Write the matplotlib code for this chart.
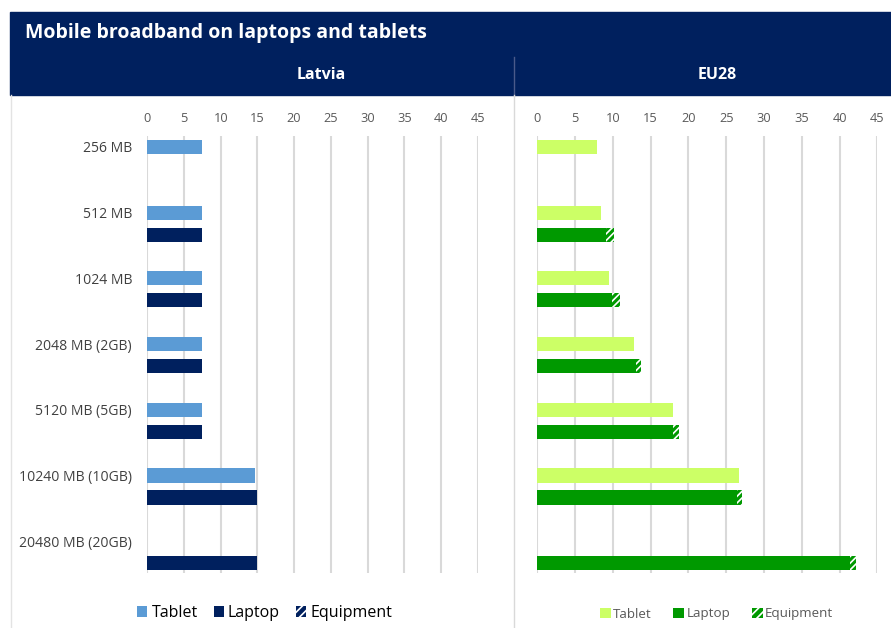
import numpy as np
import matplotlib
matplotlib.use("Agg")
import matplotlib.pyplot as plt
from matplotlib.patches import Rectangle, Patch
from matplotlib.lines import Line2D

plt.rcParams['font.family'] = ['Open Sans', 'DejaVu Sans']
plt.rcParams['hatch.linewidth'] = 1.2

title = "Mobile broadband on laptops and tablets"
panels = ["Latvia", "EU28"]
categories = ["256 MB", "512 MB", "1024 MB", "2048 MB (2GB)", "5120 MB (5GB)",
              "10240 MB (10GB)", "20480 MB (20GB)"]
series_names = ["Tablet", "Laptop", "Equipment"]
xticks = [0, 5, 10, 15, 20, 25, 30, 35, 40, 45]

lv_tablet = [7.4, 7.4, 7.4, 7.4, 7.4, 14.7, np.nan]
lv_laptop = [np.nan, 7.4, 7.4, 7.4, 7.4, 14.9, 14.9]
lv_equipment = [np.nan, 0, 0, 0, 0, 0, 0]

eu_tablet = [7.9, 8.4, 9.5, 12.8, 18.0, 26.7, np.nan]
eu_laptop = [np.nan, 9.05, 9.9, 13.05, 18.0, 26.45, 41.4]
eu_equipment = [np.nan, 1.1, 1.1, 0.65, 0.75, 0.6, 0.75]

W, H = 891, 628
fig = plt.figure(figsize=(W / 100, H / 100), dpi=100)
NAVY = "#00205E"


def px_rect(x0, y0, x1, y1):
    return [x0 / W, 1 - y1 / H, (x1 - x0) / W, (y1 - y0) / H]


# header bands
fig.patches.append(Rectangle((10 / W, 1 - 95 / H), (W - 10) / W, 83 / H,
                             transform=fig.transFigure, color=NAVY, zorder=0))
fig.text(25 / W, 1 - 33 / H, title, color="white", fontsize=14,
         fontweight="bold", va="center", ha="left")
fig.lines.append(Line2D([513.5 / W, 513.5 / W], [1 - 57 / H, 1 - 95 / H],
                        transform=fig.transFigure, color="#4a5a8a", lw=1))
fig.lines.append(Line2D([513.5 / W, 513.5 / W], [1 - 95 / H, 0],
                        transform=fig.transFigure, color="#d9d9d9", lw=1))
fig.lines.append(Line2D([11 / W, 11 / W], [1 - 95 / H, 0],
                        transform=fig.transFigure, color="#e3e3e3", lw=1))
fig.text(321 / W, 1 - 75 / H, panels[0], color="white", fontsize=11.5,
         fontweight="bold", ha="center", va="center")
fig.text(717 / W, 1 - 75 / H, panels[1], color="white", fontsize=11.5,
         fontweight="bold", ha="center", va="center")

pos = np.arange(len(categories))
off = 0.335
bh = 0.215


def draw(ax, tab, lap, eqp, c_tab, c_lap, show_labels):
    tab = np.array(tab, float)
    lap = np.array(lap, float)
    eqp = np.array(eqp, float)
    mt = ~np.isnan(tab)
    ml = ~np.isnan(lap)
    ax.barh(pos[mt], tab[mt], height=bh, color=c_tab, zorder=3)
    ax.barh(pos[ml] + off, lap[ml], height=bh, color=c_lap, zorder=3)
    me = ml & ~np.isnan(eqp) & (np.nan_to_num(eqp) > 0)
    ax.barh(pos[me] + off, eqp[me], left=lap[me], height=bh, color=c_lap,
            edgecolor="white", linewidth=0, hatch="/////", zorder=3)
    ax.set_xlim(0, 45)
    ax.set_ylim(6.484, -0.167)
    ax.set_xticks(xticks)
    ax.xaxis.tick_top()
    ax.tick_params(axis="x", length=0, pad=8, labelsize=9.2, labelcolor="#595959")
    ax.grid(axis="x", color="#d9d9d9", lw=1.5, zorder=0)
    ax.set_axisbelow(True)
    for s in ax.spines.values():
        s.set_visible(False)
    ax.set_yticks(pos)
    if show_labels:
        ax.set_yticklabels(categories)
        ax.tick_params(axis="y", length=0, pad=11, labelsize=10.1,
                       labelcolor="#404040")
    else:
        ax.set_yticklabels([])
        ax.tick_params(axis="y", length=0)


ax1 = fig.add_axes(px_rect(147.3, 136, 477.6, 573))
draw(ax1, lv_tablet, lv_laptop, lv_equipment, "#5B9BD5", NAVY, True)
ax2 = fig.add_axes(px_rect(537.3, 136, 877.3, 573))
draw(ax2, eu_tablet, eu_laptop, eu_equipment, "#CCFF66", "#009900", False)

h1 = [Patch(facecolor="#5B9BD5"), Patch(facecolor=NAVY),
      Patch(facecolor=NAVY, edgecolor="white", lw=0, hatch="////")]
fig.legend(h1, series_names, loc="center left",
           bbox_to_anchor=(137 / W, 1 - 613 / H), ncol=3, frameon=False,
           fontsize=11.5, handlelength=0.65, handleheight=0.65,
           handletextpad=0.25, columnspacing=1.0, borderpad=0,
           borderaxespad=0)
h2 = [Patch(facecolor="#CCFF66"), Patch(facecolor="#009900"),
      Patch(facecolor="#009900", edgecolor="white", lw=0, hatch="////")]
leg2 = fig.legend(h2, series_names, loc="center left",
                  bbox_to_anchor=(600 / W, 1 - 614 / H), ncol=3, frameon=False,
                  fontsize=9.6, handlelength=0.8, handleheight=0.8,
                  handletextpad=0.2, columnspacing=1.6, borderpad=0,
                  borderaxespad=0)
for t in leg2.get_texts():
    t.set_color("#595959")

fig.savefig("out.png", dpi=100)
